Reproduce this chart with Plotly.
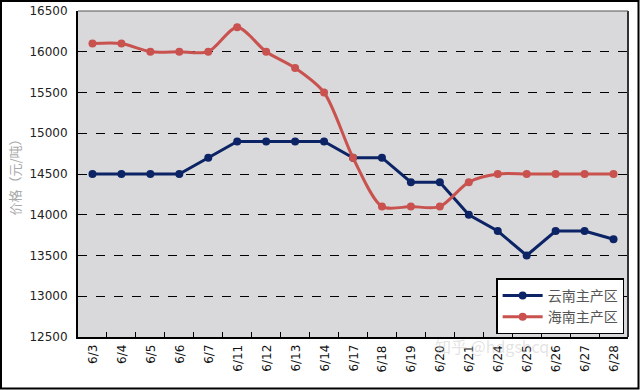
import plotly.graph_objects as go

dates = ["6/3","6/4","6/5","6/6","6/7","6/11","6/12","6/13","6/14","6/17",
         "6/18","6/19","6/20","6/21","6/24","6/25","6/26","6/27","6/28"]
yunnan = [14500,14500,14500,14500,14700,14900,14900,14900,14900,14700,
          14700,14400,14400,14000,13800,13500,13800,13800,13700]
hainan = [16100,16100,16000,16000,16000,16300,16000,15800,15500,14700,
          14100,14100,14100,14400,14500,14500,14500,14500,14500]
y_ticks = [12500,13000,13500,14000,14500,15000,15500,16000,16500]

L, R, T, B = 78, 12, 11, 53
W, H = 640, 390
pw, ph = W - L - R, H - T - B

fig = go.Figure()
fig.add_trace(go.Scatter(x=list(range(len(dates))), y=yunnan, name="云南主产区",
                         mode="lines+markers",
                         line=dict(color="#0c2465", width=3),
                         marker=dict(size=8, color="#0c2465")))
fig.add_trace(go.Scatter(x=list(range(len(dates))), y=hainan, name="海南主产区",
                         mode="lines+markers",
                         line=dict(color="#c9524f", width=3, shape="spline", smoothing=0.8),
                         marker=dict(size=8, color="#c9524f")))

fig.update_layout(
    width=W, height=H,
    margin=dict(l=L, r=R, t=T, b=B, autoexpand=False),
    paper_bgcolor="white", plot_bgcolor="#d9d9db",
    font=dict(family="DejaVu Sans, Verdana, sans-serif", color="#111"),
    showlegend=True,
    legend=dict(x=0.993, y=0.008, xanchor="right", yanchor="bottom",
                bgcolor="white", bordercolor="black", borderwidth=1.5,
                font=dict(family="Noto Sans CJK SC", size=14, color="#555"),
                itemwidth=40, tracegroupgap=2),
    xaxis=dict(range=[-0.5, len(dates) - 0.5], tickvals=[i - 0.5 for i in range(1, len(dates))],
               ticks="inside", ticklen=5, tickcolor="black", showticklabels=False,
               showgrid=False, zeroline=False, automargin=False,
               showline=True, linecolor="black", linewidth=2, mirror=False),
    yaxis=dict(range=[12500, 16500], tickvals=y_ticks, ticktext=[str(v) for v in y_ticks],
               tickfont=dict(size=12, color="#222"), automargin=False,
               ticklabelstandoff=6,
               showgrid=True, gridcolor="black", griddash="dash", gridwidth=1.3,
               zeroline=False, showline=True, linecolor="black", linewidth=2,
               ticks="", title=dict(text="价格（元/吨）",
                                    font=dict(family="Noto Sans CJK SC", size=13, color="#aaa"),
                                    standoff=6)),
)

# x tick labels rotated
for i, d in enumerate(dates):
    fig.add_annotation(x=i, y=0, xref="x", yref="paper", yshift=-6,
                       text=d, showarrow=False, textangle=-90,
                       xanchor="center", yanchor="top",
                       font=dict(size=12, color="#111"))

# right and top border of plot area
fig.add_shape(type="line", xref="paper", yref="paper", x0=1, x1=1, y0=0, y1=1,
              line=dict(color="#333", width=2))
fig.add_shape(type="line", xref="paper", yref="paper", x0=0, x1=1, y0=1, y1=1,
              line=dict(color="#555", width=1))
# outer frame
fig.add_shape(type="rect", xref="paper", yref="paper",
              x0=-(L - 1) / pw, x1=1 + (R - 1.5) / pw,
              y0=-(B - 1.5) / ph, y1=1 + (T - 1) / ph,
              line=dict(color="black", width=2))

# watermark
fig.add_annotation(x=0.86, y=-0.07, xref="paper", yref="paper", text="知乎 @hdgshcq",
                   showarrow=False, font=dict(family="Noto Sans CJK SC", size=16,
                                              color="rgba(200,200,200,0.5)"))

fig.write_html("out.html", config={"displayModeBar": False},
               post_script="document.body.style.margin='0';document.body.style.overflow='hidden';")
